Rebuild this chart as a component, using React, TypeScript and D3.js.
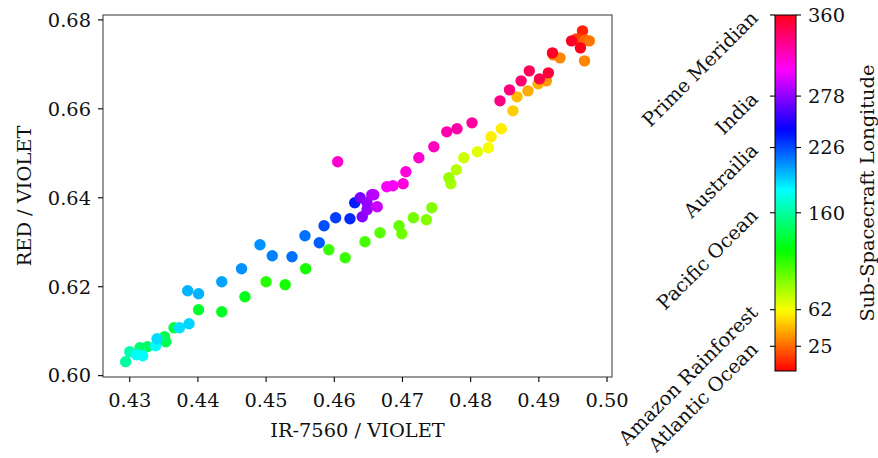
import React from "react";
import * as d3 from "d3";

// ---- data ----
const irRatio = [
  0.4294, 0.4300, 0.4310, 0.4319, 0.4315, 0.4326, 0.4338, 0.4340, 0.4351, 0.4353,
  0.4365, 0.4373, 0.4387, 0.4385, 0.4401, 0.4401, 0.4435, 0.4435, 0.4469, 0.4464,
  0.4491, 0.4500, 0.4509, 0.4528, 0.4538, 0.4557, 0.4558, 0.4578, 0.4585, 0.4602,
  0.4623, 0.4630, 0.4641, 0.4638, 0.4648, 0.4655, 0.4658, 0.4663, 0.4648, 0.4677,
  0.4686, 0.4701, 0.4705, 0.4724, 0.4746, 0.4605, 0.4765, 0.4780, 0.4802, 0.4843,
  0.4857, 0.4874, 0.4886, 0.4901, 0.4914, 0.4920, 0.4948, 0.4964, 0.4961, 0.4955,
  0.4968, 0.4974, 0.4967, 0.4931, 0.4921, 0.4911, 0.4899, 0.4884, 0.4868, 0.4862,
  0.4845, 0.4830, 0.4826, 0.4810, 0.4790, 0.4779, 0.4768, 0.4771, 0.4743, 0.4735,
  0.4716, 0.4695, 0.4699, 0.4667, 0.4645, 0.4616, 0.4592,
];
const redRatio = [
  0.60315, 0.60539, 0.60472, 0.60449, 0.60629, 0.60652, 0.60674, 0.60831, 0.60876, 0.60764,
  0.61079, 0.61079, 0.61169, 0.61910, 0.61843, 0.61483, 0.61438, 0.62112, 0.61775, 0.62404,
  0.62944, 0.62112, 0.62697, 0.62045, 0.62674, 0.63146, 0.62404, 0.62989, 0.63371, 0.63551,
  0.63528, 0.63888, 0.63573, 0.64000, 0.63888, 0.64067, 0.64067, 0.63798, 0.63730, 0.64247,
  0.64270, 0.64315, 0.64584, 0.64899, 0.65146, 0.64809, 0.65483, 0.65551, 0.65685, 0.66180,
  0.66427, 0.66629, 0.66854, 0.66674, 0.66809, 0.67258, 0.67528, 0.67753, 0.67371, 0.67573,
  0.67551, 0.67528, 0.67079, 0.67146, 0.67213, 0.66629, 0.66562, 0.66404, 0.66270, 0.65955,
  0.65551, 0.65371, 0.65124, 0.65034, 0.64899, 0.64629, 0.64449, 0.64315, 0.63775, 0.63506,
  0.63551, 0.63371, 0.63191, 0.63213, 0.63011, 0.62652, 0.62831,
];
const longitude = [
  160, 164, 180, 182, 148, 145, 183, 191, 140, 142,
  137, 191, 193, 201, 201, 133, 130, 205, 128, 209,
  209, 113, 213, 117, 217, 217, 117, 221, 225, 229,
  234, 237, 276, 273, 280, 285, 288, 292, 280, 305,
  305, 313, 313, 316, 320, 316, 324, 326, 328, 334,
  336, 340, 344, 348, 352, 356, 357, 8, 359, 16,
  24, 28, 32, 32, 32, 37, 41, 41, 45, 49,
  57, 57, 63, 68, 73, 78, 85, 82, 90, 90,
  94, 98, 95, 101, 106, 108, 108,
];

const xTicks = [0.43, 0.44, 0.45, 0.46, 0.47, 0.48, 0.49, 0.5];
const yTicks = [0.6, 0.62, 0.64, 0.66, 0.68];
const cbarTicks = [25, 62, 160, 226, 278, 360];
const cbarPlaces = [
  "Atlantic Ocean",
  "Amazon Rainforest",
  "Pacific Ocean",
  "Austrailia",
  "India",
  "Prime Meridian",
];
const xLabel = "IR-7560 / VIOLET";
const yLabel = "RED / VIOLET";
const cbarLabel = "Sub-Spacecraft Longitude";

// matplotlib "hsv" colormap segment data
const hsvRed: [number, number][] = [
  [0, 1], [0.15873, 1], [0.174603, 0.96875], [0.333333, 0.03125], [0.349206, 0],
  [0.666667, 0], [0.68254, 0.03125], [0.84127, 0.96875], [0.857143, 1], [1, 1],
];
const hsvGreen: [number, number][] = [
  [0, 0], [0.15873, 0.9375], [0.174603, 1], [0.507937, 1], [0.666667, 0.0625],
  [0.68254, 0], [1, 0],
];
const hsvBlue: [number, number][] = [
  [0, 0], [0.333333, 0], [0.349206, 0.0625], [0.507937, 1], [0.84127, 1],
  [0.857143, 0.9375], [1, 0.09375],
];
const chan = (seg: [number, number][]) =>
  d3.scaleLinear().domain(seg.map((s) => s[0])).range(seg.map((s) => s[1])).clamp(true);
const rS = chan(hsvRed), gS = chan(hsvGreen), bS = chan(hsvBlue);
const hsvMap = (t: number) =>
  d3.rgb(rS(t) * 255, gS(t) * 255, bS(t) * 255).formatHex();

const W = 878, H = 458;
const M = { left: 103, right: 612, top: 15, bottom: 377 };
const CB = { x0: 775, x1: 796, top: 15, bottom: 371 };
const FONT = "'DejaVu Serif', serif";
const FS = 19.4;

export default function App() {
  const x = d3.scaleLinear().domain([0.42608, 0.50073]).range([M.left, M.right]);
  const y = d3.scaleLinear().domain([0.5997, 0.6811]).range([M.bottom, M.top]);
  const color = d3.scaleLinear().domain([0, 360]).range([0, 1]);
  const cy = d3.scaleLinear().domain([0, 360]).range([CB.bottom, CB.top]);

  const idx = d3.range(irRatio.length).sort((a, b) => longitude[a] - longitude[b]);
  const stops = d3.range(0, 1.0001, 1 / 120);

  return (
    <svg
      width={W}
      height={H}
      style={{ position: "absolute", left: 0, top: 0, background: "#fff" }}
      fontFamily={FONT}
    >
      <defs>
        <linearGradient id="cbgrad" x1="0" y1="1" x2="0" y2="0">
          {stops.map((t, i) => (
            <stop key={i} offset={t} stopColor={hsvMap(t)} />
          ))}
        </linearGradient>
        <clipPath id="plotclip">
          <rect x={M.left} y={M.top} width={M.right - M.left} height={M.bottom - M.top} />
        </clipPath>
      </defs>

      {/* points */}
      <g clipPath="url(#plotclip)">
        {idx.map((i) => (
          <circle
            key={i}
            cx={x(irRatio[i])}
            cy={y(redRatio[i])}
            r={5.7}
            fill={hsvMap(color(longitude[i]))}
          />
        ))}
      </g>

      {/* frame */}
      <rect
        x={M.left}
        y={M.top}
        width={M.right - M.left}
        height={M.bottom - M.top}
        fill="none"
        stroke="#555"
        strokeWidth={1.2}
      />

      {/* x ticks */}
      {xTicks.map((t) => (
        <g key={"x" + t}>
          <line x1={x(t)} x2={x(t)} y1={M.bottom} y2={M.bottom + 5} stroke="#000" strokeWidth={1.1} />
          <text x={x(t)} y={M.bottom + 30} textAnchor="middle" fontSize={FS} fill="#111">
            {t.toFixed(2)}
          </text>
        </g>
      ))}
      {/* y ticks */}
      {yTicks.map((t) => (
        <g key={"y" + t}>
          <line x1={M.left - 5} x2={M.left} y1={y(t)} y2={y(t)} stroke="#000" strokeWidth={1.1} />
          <text x={M.left - 12} y={y(t)} dy="0.35em" textAnchor="end" fontSize={FS} fill="#111">
            {t.toFixed(2)}
          </text>
        </g>
      ))}

      <text x={(M.left + M.right) / 2} y={437} textAnchor="middle" fontSize={FS} fill="#111">
        {xLabel}
      </text>
      <text
        transform={`translate(31, ${(M.top + M.bottom) / 2}) rotate(-90)`}
        textAnchor="middle"
        fontSize={FS}
        fill="#111"
      >
        {yLabel}
      </text>

      {/* colorbar */}
      <rect
        x={CB.x0}
        y={CB.top}
        width={CB.x1 - CB.x0}
        height={CB.bottom - CB.top}
        fill="url(#cbgrad)"
        stroke="#000"
        strokeWidth={1}
      />
      {cbarTicks.map((t, i) => (
        <g key={"c" + t}>
          <line x1={CB.x1} x2={CB.x1 + 5} y1={cy(t)} y2={cy(t)} stroke="#000" strokeWidth={1.1} />
          <line x1={CB.x0 - 5} x2={CB.x0} y1={cy(t)} y2={cy(t)} stroke="#000" strokeWidth={1.1} />
          <text x={CB.x1 + 12} y={cy(t)} dy="0.35em" fontSize={FS} fill="#111">
            {t}
          </text>
          <text
            transform={`translate(${CB.x0 - 20}, ${cy(t)}) rotate(-45)`}
            textAnchor="end"
            dy="0.3em"
            fontSize={FS}
            fill="#111"
          >
            {cbarPlaces[i]}
          </text>
        </g>
      ))}
      <text
        transform={`translate(874, ${(CB.top + CB.bottom) / 2}) rotate(-90)`}
        textAnchor="middle"
        fontSize={FS}
        fill="#111"
      >
        {cbarLabel}
      </text>
    </svg>
  );
}
